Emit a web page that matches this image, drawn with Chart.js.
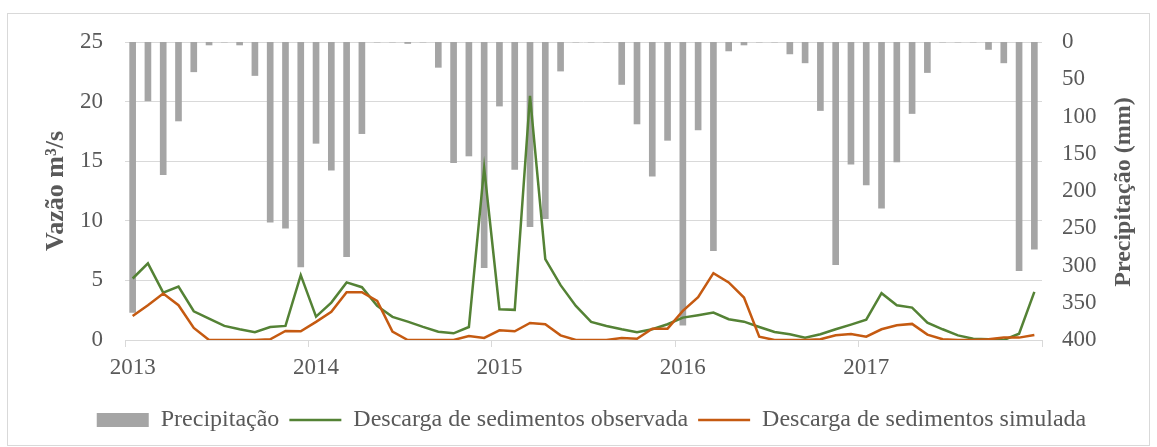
<!DOCTYPE html>
<html>
<head>
<meta charset="utf-8">
<script src="https://cdn.jsdelivr.net/npm/chart.js@4"></script>
<style>
  body { margin: 0; background: #fff; }
  canvas { display: block; }
</style>
</head>
<body>
<canvas id="grafico" width="1157" height="447"></canvas>
<script>
const anos = ['2013', '2014', '2015', '2016', '2017']
const nomesMeses = ['jan', 'fev', 'mar', 'abr', 'mai', 'jun', 'jul', 'ago', 'set', 'out', 'nov', 'dez']
const meses = anos.flatMap(ano => nomesMeses.map(m => `${m}/${ano}`))

// precipitação mensal (mm), eixo direito invertido
const precipitacao = [
  363, 79, 178, 106, 40, 4, 0, 4, 45, 242, 250, 302,
  136, 172, 288, 123, 0, 0, 2, 0, 34, 162, 153, 303,
  86, 171, 248, 237, 39, 0, 0, 0, 57, 110, 180, 132,
  380, 118, 280, 12, 4, 0, 0, 16, 28, 92, 299, 164,
  192, 223, 161, 96, 41, 0, 0, 0, 10, 28, 307, 278
]

const observada = [
  5.16, 6.43, 3.98, 4.49, 2.41, 1.80, 1.18, 0.90, 0.65, 1.09, 1.18, 5.44,
  1.96, 3.14, 4.83, 4.43, 2.86, 1.94, 1.54, 1.10, 0.70, 0.56, 1.09, 14.42,
  2.58, 2.53, 20.48, 6.79, 4.60, 2.86, 1.52, 1.18, 0.90, 0.65, 0.90, 1.32,
  1.88, 2.08, 2.30, 1.74, 1.54, 1.09, 0.67, 0.48, 0.20, 0.48, 0.90, 1.29,
  1.71, 3.93, 2.92, 2.72, 1.46, 0.90, 0.39, 0.11, 0.06, 0.00, 0.53, 4.04
]

const simulada = [
  2.02, 2.92, 3.90, 2.92, 1.01, 0, 0, 0, 0, 0.06, 0.76, 0.73,
  1.52, 2.36, 4.01, 4.01, 3.28, 0.70, 0, 0, 0, 0, 0.34, 0.17,
  0.81, 0.73, 1.43, 1.32, 0.39, 0, 0, 0, 0.17, 0.11, 0.95, 0.95,
  2.44, 3.59, 5.61, 4.83, 3.56, 0.28, 0, 0, 0, 0.06, 0.39, 0.51,
  0.28, 0.90, 1.23, 1.35, 0.45, 0.06, 0, 0, 0.06, 0.20, 0.20, 0.42
]

const fonte = "'Liberation Serif', 'Times New Roman', serif"
const cinzaTexto = '#595959'
const cinzaGrade = '#d9d9d9'

const moldura = {
  id: 'moldura',
  beforeDraw(chart) {
    const c = chart.ctx
    c.save()
    c.fillStyle = '#fff'
    c.fillRect(0, 0, chart.width, chart.height)
    c.strokeStyle = cinzaGrade
    c.lineWidth = 1
    c.strokeRect(7.5, 13.5, 1142, 432)
    c.restore()
  },
  afterDraw(chart) {
    // título do eixo direito, lido de baixo para cima
    const c = chart.ctx
    const area = chart.chartArea
    c.save()
    c.translate(1124, (area.top + area.bottom) / 2 + 1)
    c.rotate(-Math.PI / 2)
    c.font = `bold 24px ${fonte}`
    c.fillStyle = cinzaTexto
    c.textAlign = 'center'
    c.textBaseline = 'middle'
    c.fillText('Precipitação (mm)', 0, 0)
    c.restore()
  }
}

var ctx = document.getElementById('grafico').getContext('2d');

var myChart = new Chart(ctx, {
  type: 'bar',
  data: {
    labels: meses,
    datasets: [{
        type: 'bar',
        label: 'Precipitação',
        data: precipitacao,
        yAxisID: 'y1',
        backgroundColor: '#a5a5a5',
        borderWidth: 0,
        barThickness: 6,
        order: 2
      },
      {
        type: 'line',
        label: 'Descarga de sedimentos observada',
        data: observada,
        yAxisID: 'y',
        borderColor: '#548235',
        backgroundColor: '#548235',
        borderWidth: 2.5,
        pointRadius: 0,
        tension: 0,
        order: 1
      },
      {
        type: 'line',
        label: 'Descarga de sedimentos simulada',
        data: simulada,
        yAxisID: 'y',
        borderColor: '#c55a11',
        backgroundColor: '#c55a11',
        borderWidth: 2.5,
        pointRadius: 0,
        tension: 0,
        order: 0
      }
    ]
  },
  options: {
    responsive: false,
    animation: false,
    layout: { padding: { top: 42, left: 26, right: 0, bottom: 5 } },
    plugins: {
      tooltip: { enabled: false },
      legend: {
        position: 'bottom',
        labels: {
          usePointStyle: true,
          pointStyleWidth: 52,
          boxHeight: 14,
          padding: 10,
          color: cinzaTexto,
          font: { family: fonte, size: 24 },
          sort: (a, b) => a.datasetIndex - b.datasetIndex,
          generateLabels(chart) {
            return chart.data.datasets.map((ds, i) => ({
              text: ds.label,
              datasetIndex: i,
              fillStyle: ds.type === 'bar' ? ds.backgroundColor : ds.borderColor,
              strokeStyle: ds.type === 'bar' ? ds.backgroundColor : ds.borderColor,
              lineWidth: ds.type === 'bar' ? 0 : 2.5,
              pointStyle: ds.type === 'bar' ? 'rect' : 'line',
              fontColor: cinzaTexto,
              hidden: false
            }))
          }
        }
      }
    },
    scales: {
      x: {
        offset: true,
        afterFit: s => { s.height = 58 },
        grid: {
          offset: true,
          drawOnChartArea: false,
          drawTicks: true,
          tickLength: 7,
          color: c => (c.index === undefined || c.index % 12 === 0) ? cinzaGrade : 'transparent'
        },
        border: { display: true, color: cinzaGrade },
        ticks: {
          autoSkip: false,
          maxRotation: 0,
          padding: 7,
          color: cinzaTexto,
          font: { family: fonte, size: 23 },
          callback: (v, i) => i % 12 === 0 ? anos[i / 12] : ''
        }
      },
      y: {
        position: 'left',
        min: 0,
        max: 25,
        afterFit: s => { s.width = 99 },
        ticks: {
          stepSize: 5,
          padding: 22,
          color: cinzaTexto,
          font: { family: fonte, size: 23 }
        },
        grid: { color: cinzaGrade, drawTicks: false },
        border: { display: false },
        title: {
          display: true,
          text: 'Vazão m³/s',
          color: cinzaTexto,
          padding: { top: 15, bottom: 0 },
          font: { family: fonte, size: 26, weight: 'bold' }
        }
      },
      y1: {
        position: 'right',
        reverse: true,
        min: 0,
        max: 400,
        afterFit: s => { s.width = 115 },
        ticks: {
          stepSize: 50,
          padding: 20,
          color: cinzaTexto,
          font: { family: fonte, size: 23 }
        },
        grid: { display: false, drawTicks: false },
        border: { display: false }
      }
    }
  },
  plugins: [moldura]
});
</script>
</body>
</html>
